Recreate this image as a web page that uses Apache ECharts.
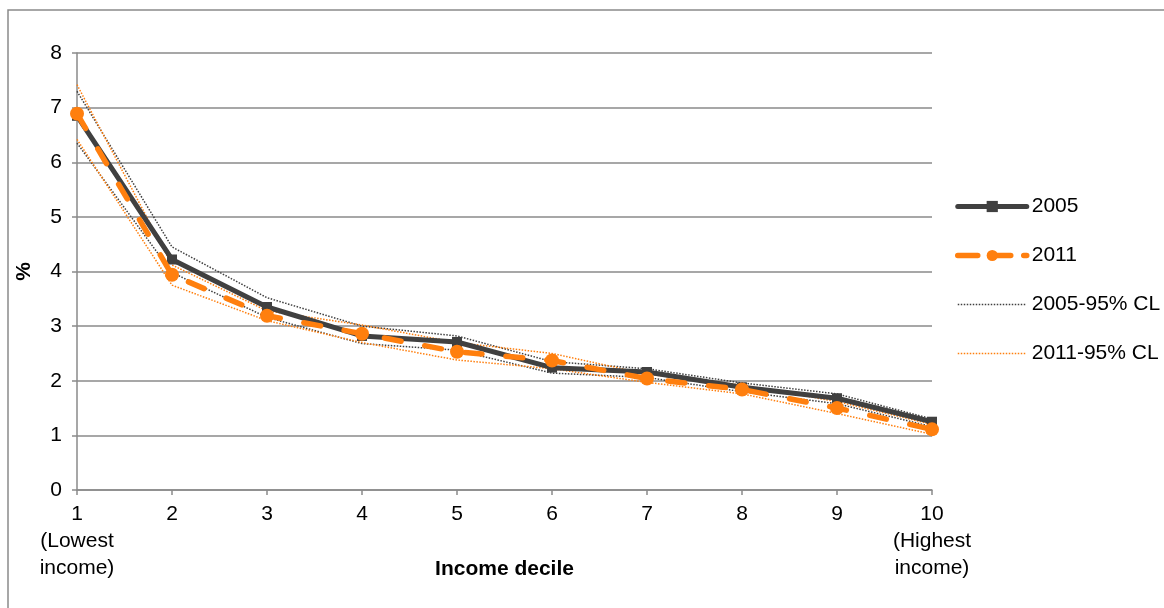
<!DOCTYPE html>
<html>
<head>
<meta charset="utf-8">
<script src="https://cdn.jsdelivr.net/npm/echarts@6/dist/echarts.min.js"></script>
<style>
  html, body { margin: 0; padding: 0; background: #fff; }
  #chart { width: 1164px; height: 608px; }
</style>
</head>
<body>
<div id="chart"></div>
<script>
// Income deciles (x axis labels)
var deciles = ['1\n(Lowest\nincome)', '2', '3', '4', '5', '6', '7', '8', '9', '10\n(Highest\nincome)'];

// Share (%) by income decile
var share2005 = [6.85, 4.22, 3.35, 2.82, 2.71, 2.24, 2.16, 1.88, 1.68, 1.25];
var share2011 = [6.89, 3.94, 3.19, 2.86, 2.53, 2.37, 2.04, 1.84, 1.50, 1.11];

// 95% confidence limits
var upper2005 = [7.30, 4.45, 3.52, 3.00, 2.82, 2.35, 2.22, 1.96, 1.76, 1.30];
var lower2005 = [6.35, 3.98, 3.16, 2.68, 2.56, 2.14, 2.06, 1.80, 1.58, 1.16];
var upper2011 = [7.42, 4.12, 3.28, 3.02, 2.70, 2.50, 2.12, 1.92, 1.62, 1.20];
var lower2011 = [6.42, 3.75, 3.10, 2.70, 2.38, 2.22, 1.97, 1.76, 1.40, 1.02];

var yTicks = [0, 1, 2, 3, 4, 5, 6, 7, 8];

var DARK = '#404040';
var ORANGE = '#FF7F0E';
var GRID = '#8a8a8a';
var FONT = '"Liberation Sans", Arial, sans-serif';
var FS = 21;

var chart = echarts.init(document.getElementById('chart'), null, { renderer: 'canvas' });

var dotted = [1.5, 1.5];

function clLine(name, data, color) {
  return {
    name: name,
    type: 'line',
    data: data,
    symbol: 'none',
    silent: true,
    z: 1,
    lineStyle: { color: color, width: 1.5, type: dotted },
    itemStyle: { color: color }
  };
}

chart.setOption({
  animation: false,
  textStyle: { fontFamily: FONT },
  graphic: [{
    type: 'rect',
    shape: { x: 8, y: 10, width: 1200, height: 700 },
    style: { fill: 'none', stroke: GRID, lineWidth: 1.5 },
    silent: true,
    z: -10
  }],
  grid: { left: 77, right: 232, top: 53, bottom: 118, containLabel: false },
  legend: {
    orient: 'vertical',
    left: 950,
    top: 191,
    itemWidth: 69,
    itemHeight: 14,
    itemGap: 28,
    textStyle: { fontFamily: FONT, fontSize: FS, lineHeight: 21, color: '#000' },
    data: [
      { name: '2005', lineStyle: { width: 5, cap: 'round' } },
      { name: '2011', lineStyle: { width: 5.5, type: [20, 13], cap: 'round' } },
      { name: '2005-95% CL', lineStyle: { width: 1.5, type: dotted }, itemStyle: { opacity: 0 } },
      { name: '2011-95% CL', lineStyle: { width: 1.5, type: dotted }, itemStyle: { opacity: 0 } }
    ]
  },
  xAxis: {
    type: 'category',
    data: deciles,
    boundaryGap: false,
    name: 'Income decile',
    nameLocation: 'middle',
    nameGap: 69,
    nameMoveOverlap: false,
    nameTextStyle: { fontFamily: FONT, fontSize: FS, fontWeight: 'bold', color: '#000' },
    axisLine: { lineStyle: { color: GRID, width: 1.5 } },
    axisTick: { show: true, length: 5, alignWithLabel: true, lineStyle: { color: GRID, width: 1.5 } },
    axisLabel: { interval: 0, fontSize: FS, color: '#000', lineHeight: 27, margin: 11, fontFamily: FONT }
  },
  yAxis: {
    type: 'value',
    min: yTicks[0],
    max: yTicks[yTicks.length - 1],
    interval: 1,
    name: '%',
    nameLocation: 'middle',
    nameGap: 42,
    nameRotate: 90,
    nameMoveOverlap: false,
    nameTextStyle: { fontFamily: FONT, fontSize: FS, fontWeight: 'bold', color: '#000' },
    axisLine: { show: true, lineStyle: { color: GRID, width: 1.5 } },
    axisTick: { show: true, length: 5, lineStyle: { color: GRID, width: 1.5 } },
    axisLabel: { fontSize: FS, color: '#000', margin: 15, fontFamily: FONT },
    splitLine: { lineStyle: { color: GRID, width: 1.5 } }
  },
  series: [
    {
      name: '2005',
      type: 'line',
      data: share2005,
      symbol: 'rect',
      symbolSize: 10,
      z: 3,
      lineStyle: { color: DARK, width: 5 },
      itemStyle: { color: DARK }
    },
    {
      name: '2011',
      type: 'line',
      data: share2011,
      symbol: 'circle',
      symbolSize: 14,
      z: 4,
      lineStyle: { color: ORANGE, width: 5.5, type: [17, 24], cap: 'round' },
      itemStyle: { color: ORANGE }
    },
    clLine('2005-95% CL', upper2005, DARK),
    clLine('2005-95% CL', lower2005, DARK),
    clLine('2011-95% CL', upper2011, ORANGE),
    clLine('2011-95% CL', lower2011, ORANGE)
  ]
});
</script>
</body>
</html>
